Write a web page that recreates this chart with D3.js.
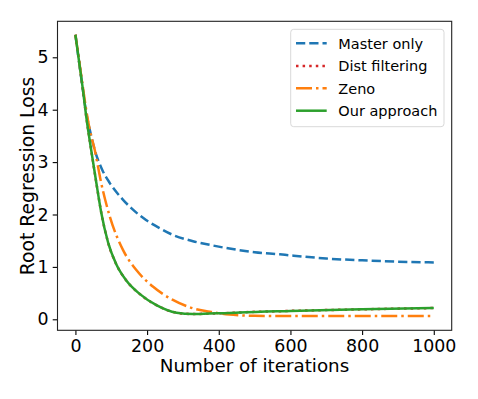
<!DOCTYPE html>
<html>
<head>
<meta charset="utf-8">
<script src="https://cdn.jsdelivr.net/npm/d3@7"></script>
<style>
html,body{margin:0;padding:0;background:#fff;}
svg{display:block;font-family:"DejaVu Sans",sans-serif;}
</style>
</head>
<body>
<svg id="chart" width="478" height="399"></svg>
<script>
// ---- data ----
const seriesNames = ["Master only", "Dist filtering", "Zeno", "Our approach"];
const xTicks = [0, 200, 400, 600, 800, 1000];
const yTicks = [0, 1, 2, 3, 4, 5];

const masterIter = [0,10,20,30,39,54,75,96,133,156,198,235,272,328,375,430,458,500,570,600,700,800,900,1000];
const masterLoss = [5.43,4.92,4.42,3.95,3.65,3.23,2.85,2.6,2.28,2.12,1.89,1.74,1.61,1.49,1.42,1.35,1.32,1.28,1.24,1.22,1.16,1.125,1.10,1.085];

const distIter = [0,10,20,30,44,58,72,91,114,142,180,226,282,328,375,430,458,600,800,1000];
const distLoss = [5.43,4.93,4.43,3.88,3.23,2.62,2.04,1.47,1.05,0.74,0.48,0.27,0.126,0.10,0.11,0.12,0.13,0.16,0.19,0.215];

const zenoIter = [0,10,20,30,40,54,72,96,133,170,217,272,328,375,400,430,458,500,600,800,1000];
const zenoLoss = [5.43,4.95,4.47,4.0,3.62,3.23,2.6,1.96,1.32,0.94,0.62,0.37,0.21,0.145,0.115,0.09,0.077,0.066,0.063,0.062,0.062];

const oursIter = distIter;
const oursLoss = distLoss;

// ---- layout ----
const svg = d3.select("#chart");
const L = 57.5, R = 451.7, T = 21.3, B = 330.3;
const x = d3.scaleLinear().domain([-50, 1050]).range([L, R]);
const y = d3.scaleLinear().domain([-0.21, 5.687]).range([B, T]);

svg.append("defs").append("clipPath").attr("id","clip")
  .append("rect").attr("x",L).attr("y",T).attr("width",R-L).attr("height",B-T);

const series = [
  {name: seriesNames[0], it: masterIter, v: masterLoss, color: "#1f77b4", dash: "9.25,4"},
  {name: seriesNames[1], it: distIter, v: distLoss, color: "#d62728", dash: "2.5,4.1"},
  {name: seriesNames[2], it: zenoIter, v: zenoLoss, color: "#ff7f0e", dash: "16,4,2.5,4"},
  {name: seriesNames[3], it: oursIter, v: oursLoss, color: "#2ca02c", dash: null}
];

const line = d3.line().x(d => x(d[0])).y(d => y(d[1])).curve(d3.curveMonotoneX);
const g = svg.append("g").attr("clip-path","url(#clip)");
series.forEach(s => {
  g.append("path")
    .datum(s.it.map((t,i) => [t, s.v[i]]))
    .attr("d", line)
    .attr("fill","none")
    .attr("stroke", s.color)
    .attr("stroke-width", 2.5)
    .attr("stroke-dasharray", s.dash)
    .attr("stroke-linecap","butt");
});

// ---- axes ----
const xAxis = d3.axisBottom(x).tickValues(xTicks).tickFormat(d3.format("d")).tickSize(4.8).tickPadding(4.5);
const yAxis = d3.axisLeft(y).tickValues(yTicks).tickFormat(d3.format("d")).tickSize(4.8).tickPadding(4.2);
const gx = svg.append("g").attr("transform",`translate(0,${B})`).call(xAxis);
const gy = svg.append("g").attr("transform",`translate(${L},0)`).call(yAxis);
[gx, gy].forEach(a => {
  a.attr("font-size", null).attr("font-family", null);
  a.select(".domain").remove();
  a.selectAll(".tick line").attr("stroke","#000").attr("stroke-width",1.1);
  a.selectAll(".tick text").attr("fill","#000").style("font-size","17.4px").style("font-family","DejaVu Sans");
});

// spines
svg.append("rect").attr("x",L).attr("y",T).attr("width",R-L).attr("height",B-T)
  .attr("fill","none").attr("stroke","#222").attr("stroke-width",1.1);

// labels
svg.append("text").attr("x",254.5).attr("y",372).attr("text-anchor","middle")
  .style("font-size","18.3px").text("Number of iterations");
svg.append("text").attr("transform","translate(34,176) rotate(-90)").attr("text-anchor","middle")
  .style("font-size","18.8px").text("Root Regression Loss");

// legend
const lg = svg.append("g");
lg.append("rect").attr("x",290.7).attr("y",29.3).attr("width",444-290.7).attr("height",126.7-29.3)
  .attr("rx",3).attr("fill","#fff").attr("fill-opacity",0.8).attr("stroke","#d9d9d9").attr("stroke-width",1);
const rows = [43.3, 66, 88.3, 110.7];
series.forEach((s,i) => {
  lg.append("line").attr("x1",296).attr("x2",326.7).attr("y1",rows[i]).attr("y2",rows[i])
    .attr("stroke",s.color).attr("stroke-width",2.5).attr("stroke-dasharray",s.dash);
  lg.append("text").attr("x",338.3).attr("y",rows[i]).attr("dy","0.36em")
    .style("font-size","14.5px").attr("fill","#000").text(s.name);
});
</script>
</body>
</html>
